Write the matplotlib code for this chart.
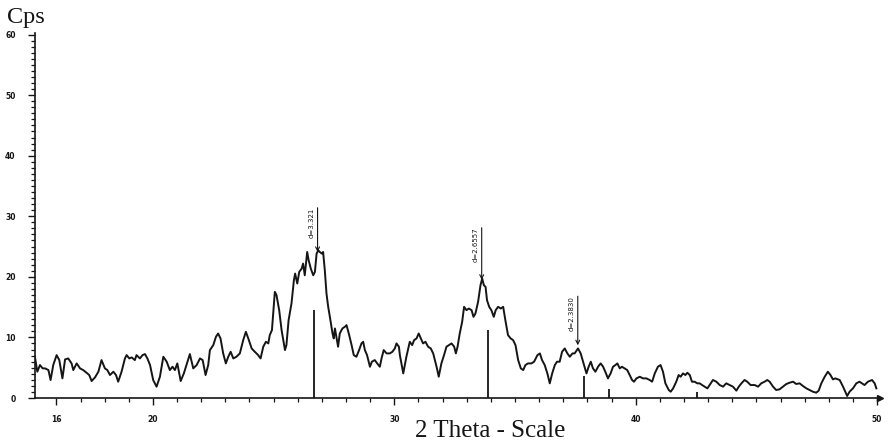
import matplotlib
matplotlib.use('Agg')
import matplotlib.pyplot as plt
from matplotlib.ticker import FixedLocator, MultipleLocator

two_theta = [
    15.11, 15.21, 15.32, 15.43, 15.53, 15.67, 15.76, 15.87, 16.01, 16.12, 16.25, 16.36, 16.49,
    16.63, 16.70, 16.84, 16.98, 17.11, 17.25, 17.36, 17.46, 17.60, 17.74, 17.87, 18.01, 18.11,
    18.22, 18.36, 18.47, 18.56, 18.70, 18.84, 18.91, 19.02, 19.12, 19.25, 19.32, 19.46, 19.57,
    19.67, 19.77, 19.88, 20.01, 20.15, 20.29, 20.43, 20.57, 20.70, 20.81, 20.91, 21.01, 21.15,
    21.28, 21.39, 21.53, 21.67, 21.81, 21.95, 22.06, 22.18, 22.29,
    22.36, 22.50, 22.61, 22.70, 22.80, 22.91, 23.02, 23.12, 23.22, 23.33, 23.46, 23.60, 23.74,
    23.85, 23.95, 24.09, 24.22, 24.36, 24.46, 24.57, 24.68, 24.78, 24.84, 24.93, 25.05, 25.12,
    25.23, 25.33, 25.47, 25.53, 25.62, 25.74, 25.84, 25.89, 25.98, 26.06, 26.16, 26.22, 26.29,
    26.39, 26.45, 26.54, 26.64, 26.71, 26.78, 26.85, 26.91, 27.00, 27.05, 27.12, 27.19, 27.26,
    27.33, 27.44, 27.49, 27.54, 27.60, 27.67, 27.74, 27.85, 27.95, 28.02, 28.13, 28.23, 28.32,
    28.43, 28.54, 28.64, 28.71, 28.78, 28.87, 28.99, 29.07, 29.19, 29.29, 29.40, 29.47, 29.56,
    29.68, 29.81, 29.92, 30.02, 30.09, 30.19,
    30.23, 30.37, 30.50, 30.64, 30.74, 30.82, 30.92, 31.01, 31.10, 31.19, 31.29, 31.40, 31.51,
    31.61, 31.75, 31.84, 31.95, 32.06, 32.16, 32.26, 32.37, 32.48, 32.55, 32.62, 32.71, 32.81,
    32.89, 32.99, 33.09, 33.20, 33.28, 33.36, 33.47, 33.57, 33.64, 33.71, 33.78, 33.84, 33.93,
    34.02, 34.12, 34.20, 34.30, 34.41, 34.51, 34.60, 34.71, 34.82, 34.92, 35.02, 35.13, 35.24,
    35.34, 35.43, 35.54, 35.68, 35.79, 35.93, 36.03, 36.12, 36.23, 36.34, 36.44, 36.54, 36.65,
    36.74, 36.85, 36.95, 37.06, 37.17, 37.27, 37.38,
    37.47, 37.61, 37.72, 37.86, 37.96, 38.05, 38.14, 38.23, 38.33, 38.44, 38.55, 38.65, 38.74,
    38.85, 38.96, 39.06, 39.16, 39.24, 39.34, 39.43, 39.54, 39.65, 39.75, 39.85, 39.93, 40.03,
    40.17, 40.30, 40.44, 40.58, 40.68, 40.79, 40.92, 41.03, 41.13, 41.23, 41.37, 41.45, 41.55,
    41.68, 41.78, 41.86, 41.96, 42.06, 42.14, 42.24, 42.33, 42.44, 42.55, 42.65, 42.75, 42.86,
    42.97, 43.06, 43.20, 43.34, 43.48, 43.62, 43.75, 43.89, 44.03, 44.17, 44.27, 44.38, 44.51,
    44.62, 44.76, 44.93, 45.07, 45.20, 45.34, 45.45, 45.55, 45.69, 45.82, 45.96, 46.10, 46.24,
    46.38, 46.52, 46.65, 46.79, 46.93, 47.07, 47.20, 47.34, 47.48, 47.58, 47.69, 47.83, 47.96,
    48.07, 48.17, 48.27, 48.45, 48.59, 48.68, 48.76, 48.86, 49.00, 49.14, 49.27, 49.37, 49.48,
    49.62, 49.79, 49.90, 49.97,
]
cps = [
    6.81, 4.34, 5.44, 4.89, 4.89, 4.61, 2.97, 5.44, 7.08, 6.26, 3.24, 6.37, 6.53,
    5.71, 4.61, 5.71, 4.89, 4.61, 4.17, 3.79, 2.80, 3.40, 4.34, 6.26, 4.89, 4.61,
    3.79, 4.34, 3.79, 2.69, 4.34, 6.53, 7.08, 6.53, 6.70, 6.26, 7.08, 6.53, 7.08,
    7.25, 6.53, 5.44, 2.97, 1.87, 3.52, 6.81, 5.99, 4.61, 5.16, 4.61, 5.71, 2.80,
    4.06, 5.44, 7.25, 4.89, 5.44, 6.53, 6.26, 3.79, 5.44,
    7.91, 8.73, 10.10, 10.65, 9.83, 7.36, 5.71, 6.81, 7.63, 6.53, 6.81, 7.36, 9.56,
    10.93, 9.83, 8.18, 7.63, 7.08, 6.53, 8.46, 9.28, 9.01, 10.38, 11.20, 17.52, 16.97,
    14.50, 11.20, 7.91, 8.73, 12.85, 15.60, 19.44, 20.54, 18.89, 20.81, 21.36, 22.19, 20.26,
    24.11, 22.74, 21.36, 20.26, 20.81, 23.83, 24.38, 24.11, 23.83, 24.11, 21.09, 17.24, 15.05,
    13.40, 10.65, 9.83, 11.48, 10.10, 8.46, 10.65, 11.48, 11.75, 12.03, 10.38, 8.73, 7.08,
    6.81, 7.91, 9.01, 9.28, 7.91, 7.08, 5.16, 5.99, 6.26, 5.71, 5.16, 6.53, 7.91,
    7.36, 7.36, 7.63, 8.18, 9.01, 8.46,
    7.08, 4.06, 6.81, 9.28, 8.73, 9.56, 9.83, 10.65, 9.83, 9.01, 9.28, 8.46, 8.18,
    7.36, 5.16, 3.52, 5.71, 7.08, 8.46, 8.73, 9.01, 8.46, 7.36, 8.46, 10.65, 12.57,
    15.05, 14.50, 14.77, 14.50, 13.40, 13.95, 15.87, 18.62, 19.71, 18.62, 18.34, 16.14, 15.05,
    14.50, 13.40, 14.50, 15.05, 14.77, 15.05, 12.85, 10.38, 9.83, 9.56, 8.73, 6.26, 4.89,
    4.61, 5.44, 5.71, 5.71, 5.99, 7.08, 7.36, 6.26, 5.44, 4.06, 2.42, 4.06, 5.44,
    5.99, 5.99, 7.63, 8.18, 7.36, 6.81, 7.36,
    7.36, 8.18, 7.36, 5.44, 4.06, 5.16, 5.99, 4.89, 4.34, 5.16, 5.71, 5.16, 4.34,
    3.24, 4.06, 5.16, 5.44, 5.71, 4.89, 5.16, 4.89, 4.61, 3.79, 2.97, 2.69, 3.24,
    3.51, 3.24, 3.24, 2.97, 2.69, 4.06, 5.16, 5.44, 4.34, 2.42, 1.32, 1.04, 1.59,
    2.69, 3.79, 3.51, 4.06, 3.79, 4.17, 3.79, 2.69, 2.69, 2.42, 2.42, 2.14, 1.87,
    1.59, 2.14, 2.97, 2.69, 2.14, 1.87, 2.42, 2.14, 1.87, 1.21, 1.87, 2.42, 2.97,
    2.69, 2.14, 2.14, 1.87, 2.42, 2.69, 2.97, 2.69, 1.87, 1.32, 1.43, 1.87, 2.31,
    2.53, 2.69, 2.31, 2.42, 1.98, 1.59, 1.32, 1.04, 0.88, 1.21, 2.42, 3.51, 4.34,
    3.79, 3.08, 3.24, 2.97, 1.87, 1.04, 0.33, 1.04, 1.59, 2.42, 2.69, 2.42, 2.14,
    2.69, 2.97, 2.42, 1.59,
]

# reference stick lines
stick_pos = [26.67, 33.89, 37.86, 38.88, 42.55]
stick_height = [14.5, 11.2, 3.6, 1.5, 1.0]

# labelled peaks (arrow from tail down to tip)
peak_pos = [26.82, 33.62, 37.60]
peak_tail = [31.4, 28.1, 16.8]
peak_tip = [24.1, 19.5, 8.7]
peak_labels = ['d=3.321', 'd=2.6557', 'd=2.3830']

x_tick_values = [16, 20, 30, 40, 50]
y_tick_values = [0, 10, 20, 30, 40, 50, 60]

ink = '#151515'

fig = plt.figure(figsize=(8.88, 4.42), dpi=100)
fig.patch.set_facecolor('white')
ax = fig.add_axes([35 / 888, 1 - 398 / 442, 844.5 / 888, 365.3 / 442])

ax.plot(two_theta, cps, color=ink, lw=1.4, solid_joinstyle='round')
ax.vlines(stick_pos, 0, stick_height, color=ink, lw=1.3)

for p, t0, t1, lab in zip(peak_pos, peak_tail, peak_tip, peak_labels):
    ax.annotate('', xy=(p, t1), xytext=(p, t0),
                arrowprops=dict(arrowstyle='->', lw=0.8, color=ink,
                                shrinkA=0, shrinkB=0, mutation_scale=7))
    ax.text(p - 0.26, t0, lab, rotation=90, ha='center', va='top',
            fontsize=5, color=ink)

ax.set_xlim(15.114, 50.1)
ax.set_ylim(0, 60.3)

for s in ['top', 'right']:
    ax.spines[s].set_visible(False)
for s in ['left', 'bottom']:
    ax.spines[s].set_linewidth(1.2)
    ax.spines[s].set_color(ink)

# small arrowhead at the end of the 2-theta axis
ax.plot([1.0], [0.0], marker='>', markersize=4, color=ink,
        transform=ax.transAxes, clip_on=False)

ax.xaxis.set_major_locator(FixedLocator(x_tick_values))
ax.xaxis.set_minor_locator(MultipleLocator(1))
ax.yaxis.set_major_locator(FixedLocator(y_tick_values))
ax.yaxis.set_minor_locator(MultipleLocator(1))

ax.tick_params(axis='both', which='major', direction='out', length=5, width=1.0,
               color=ink, labelsize=5.5, labelcolor=ink)
ax.tick_params(axis='both', which='minor', direction='out', length=3, width=0.9, color=ink)
ax.tick_params(axis='x', which='major', pad=7)
ax.tick_params(axis='y', which='major', pad=9)
for lbl in ax.get_xticklabels() + ax.get_yticklabels():
    lbl.set_fontweight('bold')

fig.text(7 / 888, 1 - 23 / 442, 'Cps', family='Liberation Serif', fontsize=17.5,
         ha='left', va='baseline', color=ink)
fig.text(490 / 888, 1 - 437 / 442, '2 Theta - Scale', family='Liberation Serif',
         fontsize=18, ha='center', va='baseline', color=ink)

fig.savefig('out.png', dpi=100, facecolor='white')
